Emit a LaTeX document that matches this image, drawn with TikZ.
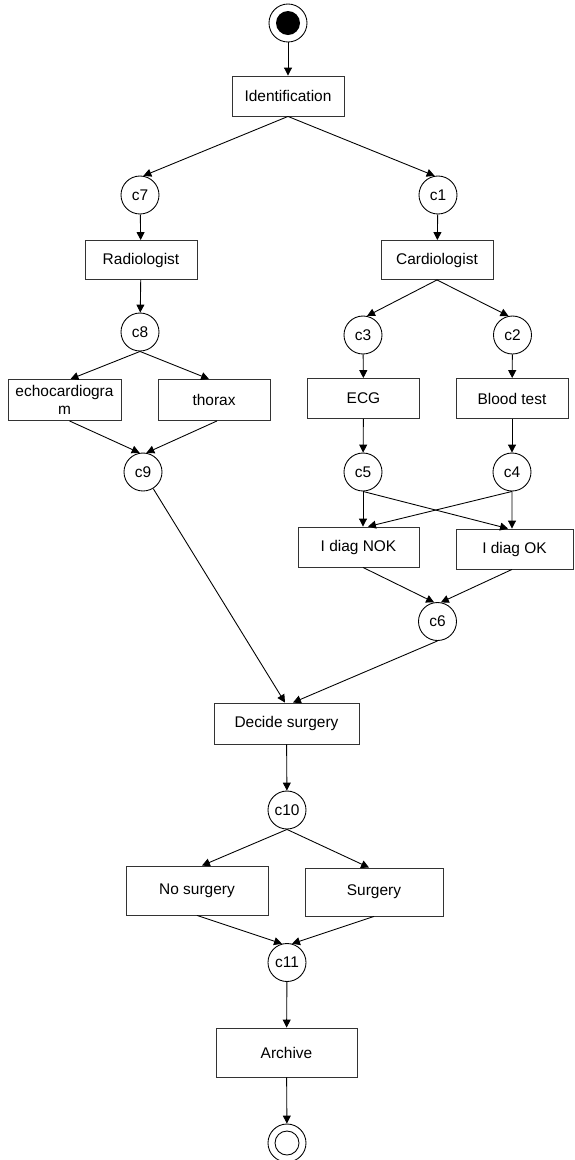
\documentclass[tikz,border=0pt]{standalone}
\usepackage{fontspec}
\setmainfont{Liberation Sans}
\usetikzlibrary{arrows.meta}

\begin{document}
\begin{tikzpicture}[activity/.style={rectangle, draw=black!80, line width=0.5pt, minimum width=2.24cm, minimum height=0.8cm, inner sep=1pt, align=center},
		cond/.style={circle, draw=black, line width=0.5pt, minimum size=0.76cm, inner sep=1pt},
		flow/.style={-{Triangle[length=4.5pt,width=4.5pt]}, line width=0.5pt},
		font=\fontsize{8.8pt}{10.2pt}\selectfont]
		\useasboundingbox (0,0) rectangle (11.48,-23.2);

		\node[cond] (start) at (5.76,-0.46) {};
		\fill (start) circle (0.24);
		\node[activity] (ident) at (5.76,-1.92) {Identification};

		\node[cond] (c7) at (2.8,-3.9) {c7};
		\node[cond] (c1) at (8.76,-3.9) {c1};
		\node[activity, minimum height=0.78cm] (radio) at (2.82,-5.2) {Radiologist};
		\node[activity, minimum height=0.78cm] (card) at (8.74,-5.2) {Cardiologist};

		\node[cond] (c8) at (2.8,-6.64) {c8};
		\node[cond] (c3) at (7.26,-6.7) {c3};
		\node[cond] (c2) at (10.25,-6.7) {c2};

		\node[activity, minimum width=2.26cm, minimum height=0.82cm] (echo) at (1.29,-8.0) {echocardiogra\\m};
		\node[activity, minimum height=0.82cm] (thorax) at (4.28,-8.0) {thorax};
		\node[activity, minimum height=0.8cm] (ecg) at (7.27,-7.97) {ECG};
		\node[activity, minimum height=0.8cm] (blood) at (10.24,-7.97) {Blood test};

		\node[cond] (c9) at (2.86,-9.44) {c9};
		\node[cond] (c5) at (7.26,-9.44) {c5};
		\node[cond] (c4) at (10.24,-9.44) {c4};

		\node[activity, minimum width=2.42cm] (nok) at (7.17,-10.94) {I diag NOK};
		\node[activity, minimum width=2.34cm] (ok) at (10.29,-10.98) {I diag OK};
		\node[cond] (c6) at (8.75,-12.43) {c6};

		\node[activity, minimum width=2.9cm, minimum height=0.82cm] (decide) at (5.73,-14.47) {Decide surgery};
		\node[cond] (c10) at (5.74,-16.2) {c10};
		\node[activity, minimum width=2.84cm, minimum height=0.98cm] (nosurg) at (3.94,-17.81) {No surgery};
		\node[activity, minimum width=2.76cm, minimum height=0.96cm] (surg) at (7.48,-17.84) {Surgery};
		\node[cond] (c11) at (5.74,-19.25) {c11};
		\node[activity, minimum width=2.82cm, minimum height=0.98cm] (archive) at (5.73,-21.05) {Archive};

		\node[cond] (end) at (5.74,-22.86) {};
		\draw[line width=0.5pt] (end) circle (0.24);

		\draw[flow] (start) -- (ident);
		\draw[flow] (ident.south) -- (c7.80);
		\draw[flow] (ident.south) -- (c1.100);
		\draw[flow] (c7) -- (radio);
		\draw[flow] (c1) -- (card);
		\draw[flow] (radio) -- (c8);
		\draw[flow] (card.south) -- (c3.78);
		\draw[flow] (card.south) -- (c2.102);

		\draw[flow] (c8.south) -- ([xshift=0.12cm]echo.north);
		\draw[flow] (c8.south) -- ([xshift=-0.1cm]thorax.north);
		\draw[flow] ([xshift=0.1cm]echo.south) -- (c9.100);
		\draw[flow] ([xshift=0.06cm]thorax.south) -- (c9.80);
		\draw[flow] (c3) -- (ecg);
		\draw[flow] (c2) -- (blood);
		\draw[flow] (ecg) -- (c5);
		\draw[flow] (blood) -- (c4);

		\draw[flow] (c5.south) -- ([xshift=0.09cm]nok.north);
		\draw[flow] (c4.south) -- ([xshift=0.19cm]nok.north);
		\draw[flow] (c5.south) -- ([xshift=-0.13cm]ok.north);
		\draw[flow] (c4.south) -- ([xshift=-0.05cm]ok.north);
		\draw[flow] ([xshift=0.09cm]nok.south) -- (c6.100);
		\draw[flow] ([xshift=-0.05cm]ok.south) -- (c6.80);

		\draw[flow] (c9) -- ([xshift=-0.03cm]decide.north);
		\draw[flow] (c6.south) -- ([xshift=0.13cm]decide.north);
		\draw[flow] (decide) -- (c10);
		\draw[flow] (c10.south) -- ([xshift=0.1cm]nosurg.north);
		\draw[flow] (c10.south) -- ([xshift=-0.1cm]surg.north);
		\draw[flow] (nosurg.south) -- (c11.105);
		\draw[flow] (surg.south) -- (c11.75);
		\draw[flow] (c11) -- (archive);
		\draw[flow] (archive) -- (end);
	\end{tikzpicture}
\end{document}
